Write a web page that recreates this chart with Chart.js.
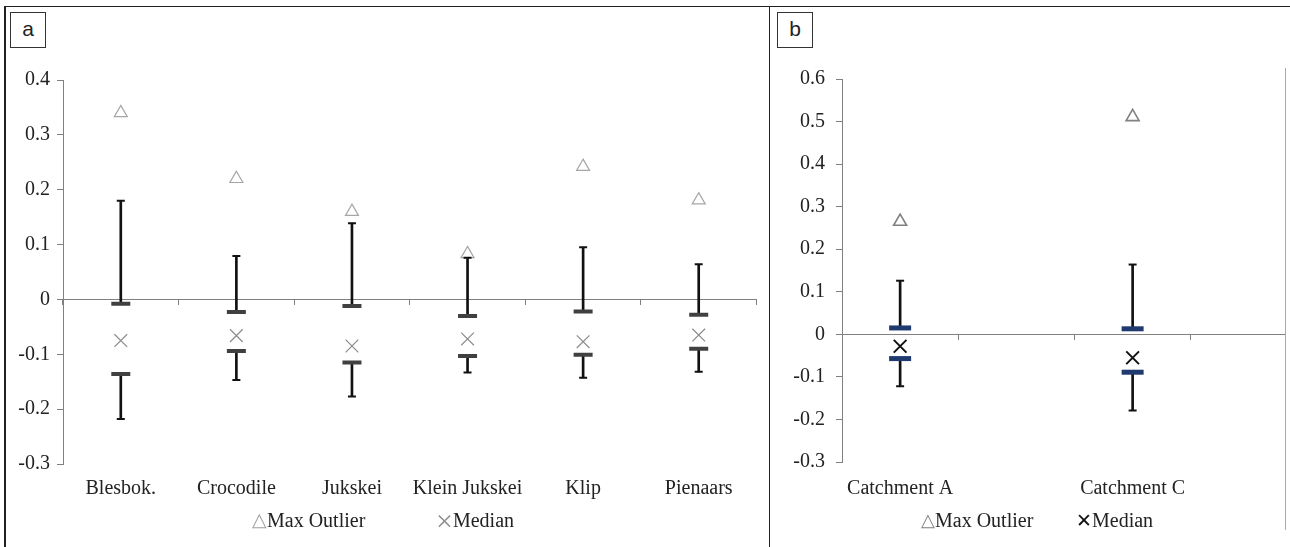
<!DOCTYPE html>
<html>
<head>
<meta charset="utf-8">
<script src="https://cdn.jsdelivr.net/npm/chart.js@4/dist/chart.umd.min.js"></script>
<style>
  body { margin: 0; width: 1290px; height: 547px; overflow: hidden; background: #fff; font-family: "Liberation Serif", "Times New Roman", serif; }
  .abs { position: absolute; }
  .tag { position: absolute; width: 34px; height: 34px; border: 1px solid #333; font-family: "Liberation Sans", sans-serif; font-size: 21px; line-height: 32px; text-align: center; color: #222; background: #fff; }
  .legend { position: absolute; font-size: 20px; line-height: 22px; color: #222; white-space: nowrap; }
  .sym { display: inline-block; line-height: 22px; vertical-align: top; }
</style>
</head>
<body>
<div class="abs" style="left:4px;top:6px;width:1290px;height:600px;border-left:2px solid #222;border-top:1px solid #222;"></div>
<div class="abs" style="left:769px;top:6px;width:1px;height:560px;background:#222;"></div>
<div class="abs" style="left:1285px;top:68px;width:1px;height:462px;background:#aaa;"></div>

<canvas id="chartA" class="abs" width="770" height="547" style="left:0;top:0;width:770px;height:547px;"></canvas>
<div class="abs" style="left:770px;top:0;width:515px;height:547px;overflow:hidden;">
  <canvas id="chartB" class="abs" width="553" height="547" style="left:0;top:0;width:553px;height:547px;"></canvas>
</div>

<div class="tag" style="left:10px;top:12px;">a</div>
<div class="tag" style="left:777px;top:12px;">b</div>

<div class="legend" style="left:252px;top:509px;"><span class="sym" style="color:#a0a0a0;font-size:19px">△</span>Max Outlier</div>
<div class="legend" style="left:436px;top:509px;"><span class="sym" style="color:#909090;font-size:30px;line-height:22px;position:relative;top:1px">×</span>Median</div>
<div class="legend" style="left:921px;top:509px;"><span class="sym" style="color:#808080;font-size:18px">△</span>Max Outlier</div>
<div class="legend" style="left:1076px;top:509px;"><span class="sym" style="color:#111;font-size:19px;position:relative;top:1px">✕</span>Median</div>

<script>
// panel a - rivers
const riversA = ["Blesbok.", "Crocodile", "Jukskei", "Klein Jukskei", "Klip", "Pienaars"];
const maxOutlierA = [0.34, 0.22, 0.16, 0.083, 0.242, 0.181];
const whiskerTopA = [0.18, 0.079, 0.139, 0.076, 0.095, 0.064];
const q3A = [-0.008, -0.023, -0.012, -0.030, -0.022, -0.028];
const medianA = [-0.075, -0.066, -0.085, -0.072, -0.077, -0.065];
const q1A = [-0.136, -0.094, -0.115, -0.103, -0.101, -0.090];
const whiskerBottomA = [-0.218, -0.147, -0.177, -0.133, -0.143, -0.132];

// panel b - catchments (empty slots keep the original spacing)
const catchmentsB = ["Catchment A", "", "Catchment C", ""];
const maxOutlierB = [0.265, null, 0.511, null];
const whiskerTopB = [0.126, null, 0.164, null];
const q3B = [0.015, null, 0.013, null];
const medianB = [-0.028, null, -0.055, null];
const q1B = [-0.057, null, -0.089, null];
const whiskerBottomB = [-0.122, null, -0.179, null];

const yTicksA = { min: -0.3, max: 0.4 };
const yTicksB = { min: -0.3, max: 0.6 };

const fontSerif = { family: "'Liberation Serif', 'Times New Roman', serif", size: 20 };

function pts(data, style, radius, color, width, fill) {
	return {
		type: "line",
		data: data,
		showLine: false,
		pointStyle: style,
		pointRadius: radius,
		pointHoverRadius: radius,
		pointBorderColor: color,
		pointBackgroundColor: fill || "rgba(0,0,0,0)",
		pointBorderWidth: width,
		pointHoverBorderWidth: width,
		xAxisID: "x",
	};
}

function whisker(lo, hi) {
	return {
		type: "bar",
		data: lo.map((v, i) => (v === null ? null : [v, hi[i]])),
		backgroundColor: "#111",
		borderWidth: 0,
		barThickness: 2,
		grouped: false,
		xAxisID: "x",
	};
}

function makeChart(canvasId, labels, d, yr, opt) {
	const datasets = [
		pts(d.q3, "line", opt.dashR, opt.dashColor, opt.dashW),
		pts(d.q1, "line", opt.dashR, opt.dashColor, opt.dashW),
		pts(d.top, "line", 4, "#111", 2),
		pts(d.bottom, "line", 4, "#111", 2),
		pts(d.median, "crossRot", 9, opt.medColor, opt.medW),
		pts(d.outlier, "triangle", 7.5, opt.triColor, opt.triW, "#fff"),
		whisker(d.q3, d.top),
		whisker(d.bottom, d.q1),
	];

	return new Chart(document.getElementById(canvasId), {
		data: { labels: labels, datasets: datasets },
		options: {
			responsive: false,
			animation: false,
			layout: { padding: { top: opt.top, right: opt.right, left: 0, bottom: 0 } },
			plugins: { legend: { display: false }, tooltip: { enabled: false } },
			scales: {
				x: {
					type: "category",
					position: { y: 0 },
					offset: true,
					grid: { offset: true, drawOnChartArea: false, drawTicks: true, tickLength: 5, color: "#808080", lineWidth: 1 },
					border: { color: "#808080", width: 1 },
					ticks: { display: false },
					afterFit: (s) => { s.paddingLeft = 0; s.paddingRight = 0; },
				},
				x2: {
					type: "category",
					position: "bottom",
					offset: true,
					grid: { display: false, drawTicks: false },
					border: { display: false },
					ticks: { font: fontSerif, color: "#222", padding: opt.xPad, maxRotation: 0, autoSkip: false },
					afterFit: (s) => { s.height = opt.bottom; s.paddingLeft = 0; s.paddingRight = 0; },
				},
				y: {
					min: yr.min,
					max: yr.max,
					grid: { drawOnChartArea: false, drawTicks: true, tickLength: 6, color: "#808080" },
					border: { color: "#808080", width: 1 },
					ticks: {
						stepSize: 0.1,
						padding: opt.yPad,
						font: fontSerif,
						color: "#222",
						callback: (v) => (Math.abs(v) < 1e-9 ? "0" : v.toFixed(1)),
					},
					afterFit: (s) => { s.width = opt.yWidth; },
				},
			},
		},
	});
}

makeChart("chartA", riversA,
	{ outlier: maxOutlierA, top: whiskerTopA, q3: q3A, median: medianA, q1: q1A, bottom: whiskerBottomA },
	yTicksA,
	{ top: 80, right: 11, bottom: 83, yWidth: 63, yPad: 7, xPad: 13, dashR: 9.5, dashW: 4, dashColor: "#404040",
	  medColor: "#8c8c8c", medW: 1.2, triColor: "#a6a6a6", triW: 1.2 });

makeChart("chartB", catchmentsB,
	{ outlier: maxOutlierB, top: whiskerTopB, q3: q3B, median: medianB, q1: q1B, bottom: whiskerBottomB },
	yTicksB,
	{ top: 79, right: 10, bottom: 85, yWidth: 72, yPad: 11, xPad: 15, dashR: 11, dashW: 5, dashColor: "#1f3a6e",
	  medColor: "#111", medW: 2, triColor: "#808080", triW: 1.6 });
</script>
</body>
</html>
